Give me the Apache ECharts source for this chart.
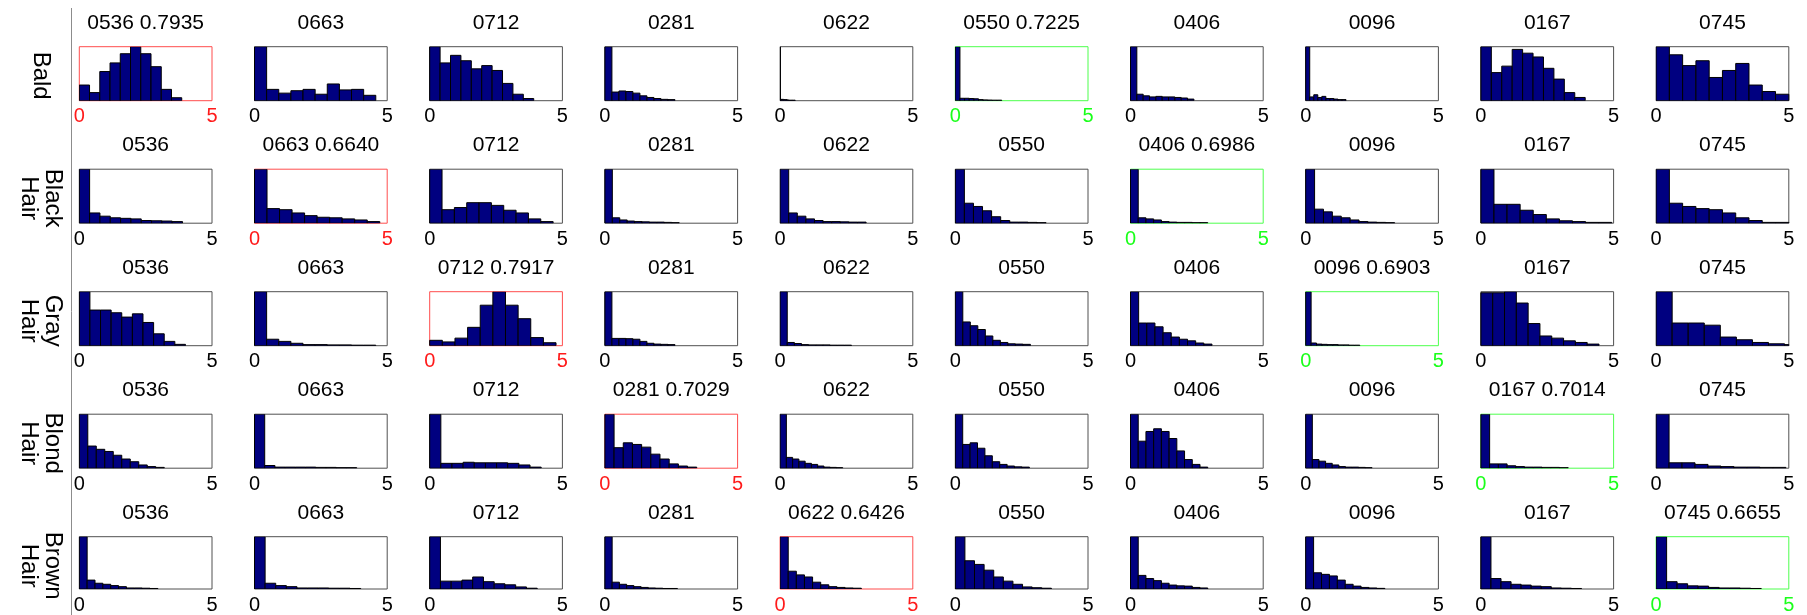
<!DOCTYPE html>
<html>
<head>
<meta charset="utf-8">
<script src="https://cdn.jsdelivr.net/npm/echarts@6/dist/echarts.min.js"></script>
<style>
html,body{margin:0;padding:0;background:#fff;}
#chart{width:1807px;height:615px;}
</style>
</head>
<body>
<div id="chart"></div>
<script>
// ---- data ----
const rowLabels = ['Bald', 'Black\nHair', 'Gray\nHair', 'Blond\nHair', 'Brown\nHair'];
const colIds = ['0536','0663','0712','0281','0622','0550','0406','0096','0167','0745'];
const xTickLabels = [0, 5];

// per row: [column index, score] of the highlighted panels
const redPicks = [[0,'0.7935'],[1,'0.6640'],[2,'0.7917'],[3,'0.7029'],[4,'0.6426']];
const greenPicks = [[5,'0.7225'],[6,'0.6986'],[7,'0.6903'],[8,'0.7014'],[9,'0.6655']];

// histogram bin ranges [first edge, last edge] (10 equal bins) and relative counts
const baldRanges = [[0,3.86],[0,4.57],[0,3.92],[0,2.64],[-0.052,0.57],[0,1.75],[0,2.39],[0,1.52],[0,3.93],[0,5.0]];
const baldHeights = [
 [0.29,0.15,0.54,0.70,0.87,1.0,0.87,0.63,0.21,0.055],
 [1.0,0.21,0.14,0.185,0.21,0.12,0.31,0.20,0.21,0.10],
 [1.0,0.70,0.84,0.74,0.59,0.65,0.56,0.32,0.12,0.04],
 [1.0,0.16,0.18,0.17,0.14,0.09,0.06,0.04,0.025,0.02],
 [1.0,0.025,0.025,0.02,0.02,0.015,0.01,0.01,0.01,0.01],
 [1.0,0.045,0.045,0.04,0.035,0.02,0.015,0.012,0.01,0.01],
 [1.0,0.12,0.09,0.07,0.08,0.07,0.07,0.06,0.05,0.03],
 [1.0,0.07,0.11,0.06,0.08,0.04,0.04,0.03,0.02,0.02],
 [1.0,0.52,0.64,0.95,0.88,0.81,0.60,0.40,0.15,0.06],
 [1.0,0.85,0.65,0.74,0.43,0.56,0.69,0.29,0.17,0.12]
];
const blackRanges = [[0,3.89],[0,4.72],[0,4.65],[0,2.8],[0,3.24],[0,3.42],[0,2.91],[0,3.35],[0,4.93],[0,5.0]];
const blackHeights = [
 [1.0,0.19,0.13,0.10,0.09,0.08,0.05,0.045,0.04,0.03],
 [1.0,0.27,0.25,0.19,0.14,0.11,0.10,0.08,0.06,0.03],
 [1.0,0.25,0.29,0.38,0.38,0.33,0.24,0.19,0.08,0.03],
 [1.0,0.10,0.06,0.04,0.03,0.025,0.02,0.02,0.015,0.01],
 [1.0,0.19,0.13,0.08,0.05,0.03,0.03,0.025,0.02,0.02],
 [1.0,0.37,0.31,0.23,0.12,0.05,0.02,0.02,0.015,0.01],
 [1.0,0.10,0.08,0.06,0.03,0.02,0.015,0.015,0.01,0.01],
 [1.0,0.26,0.21,0.13,0.10,0.06,0.03,0.02,0.015,0.01],
 [1.0,0.35,0.35,0.24,0.16,0.08,0.045,0.03,0.015,0.015],
 [1.0,0.37,0.31,0.27,0.25,0.19,0.10,0.05,0.015,0.015]
];
const grayRanges = [[0,4.0],[0,4.57],[0,4.76],[0,2.64],[0,2.69],[0,2.83],[0,3.07],[0,2.04],[0,4.45],[0,6.05]];
const grayHeights = [
 [1.0,0.66,0.66,0.61,0.53,0.59,0.43,0.22,0.08,0.025],
 [1.0,0.12,0.08,0.045,0.02,0.02,0.015,0.015,0.01,0.01],
 [0.10,0.07,0.14,0.34,0.75,1.0,0.75,0.50,0.15,0.055],
 [1.0,0.135,0.135,0.13,0.12,0.08,0.045,0.03,0.025,0.02],
 [1.0,0.06,0.04,0.02,0.015,0.015,0.015,0.01,0.01,0.01],
 [1.0,0.44,0.37,0.30,0.18,0.10,0.06,0.035,0.03,0.025],
 [1.0,0.42,0.42,0.35,0.24,0.16,0.12,0.09,0.05,0.03],
 [1.0,0.05,0.03,0.025,0.02,0.02,0.015,0.015,0.01,0.01],
 [0.98,0.98,1.0,0.79,0.41,0.18,0.14,0.09,0.06,0.03],
 [1.0,0.42,0.42,0.38,0.16,0.11,0.06,0.035,0.02,0.01]
];
const blondRanges = [[0,3.2],[0,3.85],[0,4.2],[0,3.46],[0,2.36],[0,2.79],[0,2.91],[0,2.5],[0,3.29],[0,4.89]];
const blondHeights = [
 [1.0,0.41,0.35,0.31,0.24,0.17,0.12,0.06,0.03,0.015],
 [1.0,0.05,0.02,0.02,0.02,0.02,0.015,0.015,0.01,0.01],
 [1.0,0.09,0.09,0.11,0.10,0.10,0.10,0.09,0.06,0.02],
 [1.0,0.38,0.47,0.44,0.39,0.26,0.17,0.08,0.04,0.02],
 [1.0,0.20,0.17,0.13,0.09,0.07,0.04,0.02,0.015,0.01],
 [1.0,0.44,0.47,0.37,0.23,0.12,0.07,0.04,0.025,0.02],
 [1.0,0.50,0.68,0.73,0.68,0.55,0.32,0.16,0.07,0.02],
 [1.0,0.16,0.13,0.09,0.06,0.03,0.02,0.02,0.015,0.01],
 [1.0,0.08,0.08,0.045,0.03,0.02,0.02,0.015,0.015,0.01],
 [1.0,0.10,0.10,0.07,0.04,0.03,0.02,0.02,0.015,0.015]
];
const brownRanges = [[0,2.96],[0,4.0],[0,4.05],[0,2.73],[0,3.06],[0,3.62],[0,2.91],[0,2.98],[0,3.79],[0,3.96]];
const brownHeights = [
 [1.0,0.17,0.11,0.09,0.065,0.045,0.02,0.02,0.015,0.01],
 [1.0,0.11,0.065,0.045,0.02,0.02,0.02,0.015,0.015,0.01],
 [1.0,0.15,0.15,0.17,0.23,0.14,0.10,0.08,0.04,0.015],
 [1.0,0.13,0.09,0.065,0.045,0.03,0.02,0.015,0.01,0.01],
 [1.0,0.34,0.27,0.23,0.13,0.08,0.045,0.03,0.02,0.015],
 [1.0,0.54,0.47,0.36,0.23,0.15,0.09,0.04,0.025,0.015],
 [1.0,0.26,0.20,0.16,0.11,0.075,0.06,0.055,0.03,0.02],
 [1.0,0.31,0.28,0.25,0.17,0.09,0.055,0.03,0.02,0.012],
 [1.0,0.20,0.14,0.09,0.075,0.055,0.045,0.02,0.015,0.01],
 [1.0,0.14,0.10,0.06,0.055,0.03,0.02,0.02,0.015,0.01]
];

const allRanges = [baldRanges, blackRanges, grayRanges, blondRanges, brownRanges];
const allHeights = [baldHeights, blackHeights, grayHeights, blondHeights, brownHeights];

// ---- layout ----
const FONT = '"Liberation Sans", Arial, sans-serif';
const boxLeft0 = 79.3, colPitch = 175.2, boxW = 132.7;
const boxTop0 = 46.7, rowPitch = 122.5, boxH = 54;
const NORMAL_BORDER = '#505050', RED_BORDER = '#ff4d4d', GREEN_BORDER = '#4dff4d';
const RED_TEXT = '#ff1a1a', GREEN_TEXT = '#1aff1a';

function renderBar(params, api) {
  const p0 = api.coord([api.value(0), 0]);
  const p1 = api.coord([api.value(1), api.value(2)]);
  const cs = params.coordSys;
  const rect = echarts.graphic.clipRectByRect(
    {x: p0[0], y: p1[1], width: p1[0] - p0[0], height: p0[1] - p1[1]},
    {x: cs.x, y: cs.y, width: cs.width, height: cs.height}
  );
  if (!rect) return null;
  return {type: 'rect', shape: rect, style: {fill: '#000080', stroke: '#000000', lineWidth: 1}};
}

const grids = [], xAxes = [], yAxes = [], series = [], graphics = [];
for (let r = 0; r < 5; r++) {
  for (let c = 0; c < 10; c++) {
    const idx = r * 10 + c;
    const left = boxLeft0 + colPitch * c;
    const top = boxTop0 + rowPitch * r;
    let border = NORMAL_BORDER, labelColor = '#000', title = colIds[c];
    if (redPicks[r][0] === c) { border = RED_BORDER; labelColor = RED_TEXT; title += ' ' + redPicks[r][1]; }
    if (greenPicks[r][0] === c) { border = GREEN_BORDER; labelColor = GREEN_TEXT; title += ' ' + greenPicks[r][1]; }
    grids.push({left: left, top: top, width: boxW, height: boxH, show: true,
      borderColor: border, borderWidth: 1, backgroundColor: 'transparent', containLabel: false});
    xAxes.push({type: 'value', gridIndex: idx, min: xTickLabels[0], max: xTickLabels[1], interval: 5,
      axisLine: {show: false}, axisTick: {show: false}, splitLine: {show: false},
      axisLabel: {show: true, fontSize: 20, fontFamily: FONT, color: labelColor, margin: 6,
        showMinLabel: true, showMaxLabel: true}});
    yAxes.push({type: 'value', gridIndex: idx, min: 0, max: 1, show: false});
    const rg = allRanges[r][c], hs = allHeights[r][c];
    const w = (rg[1] - rg[0]) / hs.length;
    const data = hs.map((h, i) => [rg[0] + i * w, rg[0] + (i + 1) * w, h]);
    series.push({type: 'custom', xAxisIndex: idx, yAxisIndex: idx, data: data,
      renderItem: renderBar, clip: true, silent: true, animation: false});
    graphics.push({type: 'text', x: left + boxW / 2, y: top - 23.5, silent: true,
      style: {text: title, fill: '#000', font: '21px ' + FONT, align: 'center', verticalAlign: 'middle'}});
  }
  graphics.push({type: 'text', x: 41, y: boxTop0 + rowPitch * r + boxH / 2 + 2, rotation: -Math.PI / 2, silent: true,
    style: {text: rowLabels[r], fill: '#000', font: '24px ' + FONT, align: 'center', verticalAlign: 'middle', lineHeight: 24}});
}
graphics.push({type: 'line', silent: true, shape: {x1: 71.5, y1: 8, x2: 71.5, y2: 615},
  style: {stroke: '#8c8c8c', lineWidth: 1}});

const chart = echarts.init(document.getElementById('chart'), null, {renderer: 'canvas'});
chart.setOption({
  animation: false,
  grid: grids, xAxis: xAxes, yAxis: yAxes, series: series, graphic: graphics
});
</script>
</body>
</html>
